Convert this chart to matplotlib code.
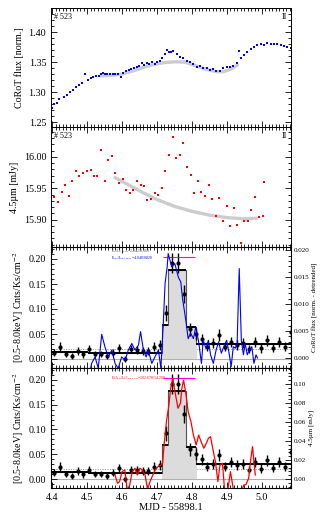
import numpy as np
import matplotlib
matplotlib.use('Agg')
import matplotlib.pyplot as plt
from matplotlib.ticker import MultipleLocator, FormatStrFormatter

plt.rcParams['font.family'] = ['Liberation Serif', 'DejaVu Serif']
plt.rcParams['mathtext.fontset'] = 'stix'

# CoRoT light curve (panel 1)
corot_t = [4.399, 4.406, 4.415, 4.421, 4.434, 4.442, 4.451, 4.459, 4.469, 4.478,
           4.486, 4.493, 4.504, 4.511, 4.518, 4.526, 4.533, 4.539, 4.545, 4.551,
           4.558, 4.566, 4.573, 4.581, 4.589, 4.596, 4.604, 4.611, 4.619, 4.627,
           4.634, 4.642, 4.649, 4.657, 4.663, 4.671, 4.678, 4.686, 4.693, 4.701,
           4.709, 4.714, 4.722, 4.728, 4.733, 4.741, 4.747, 4.756, 4.766, 4.775,
           4.785, 4.794, 4.804, 4.813, 4.823, 4.832, 4.842, 4.851, 4.861, 4.869,
           4.880, 4.889, 4.899, 4.909, 4.918, 4.928, 4.935, 4.939, 4.949, 4.958,
           4.968, 4.977, 4.987, 4.996, 5.006, 5.015, 5.025, 5.034, 5.044, 5.053,
           5.063, 5.072, 5.082]
corot_f = [1.2738, 1.2795, 1.2822, 1.2878, 1.2922, 1.2950, 1.3005, 1.3033, 1.3078, 1.3120,
           1.3158, 1.3305, 1.3194, 1.3239, 1.3256, 1.3272, 1.3261, 1.3294, 1.3322, 1.3306,
           1.3294, 1.3294, 1.3300, 1.3294, 1.3294, 1.3256, 1.3317, 1.3350, 1.3367, 1.3378,
           1.3394, 1.3417, 1.3439, 1.3483, 1.3450, 1.3489, 1.3461, 1.3494, 1.3472, 1.3506,
           1.3517, 1.3572, 1.3639, 1.3700, 1.3661, 1.3672, 1.3683, 1.3628, 1.3589, 1.3561,
           1.3517, 1.3494, 1.3460, 1.3417, 1.3439, 1.3406, 1.3394, 1.3367, 1.3383, 1.3350,
           1.3350, 1.3406, 1.3417, 1.3422, 1.3439, 1.3489, 1.3689, 1.3561, 1.3617, 1.3672,
           1.3717, 1.3756, 1.3783, 1.3794, 1.3783, 1.3811, 1.3794, 1.3800, 1.3794, 1.3783,
           1.3767, 1.3750, 1.3728]
corot_fit_t = [4.54, 4.57, 4.60, 4.63, 4.66, 4.69, 4.72, 4.75, 4.78, 4.81, 4.84, 4.87, 4.89, 4.91, 4.93]
corot_fit_f = [1.327, 1.328, 1.330, 1.335, 1.341, 1.346, 1.349, 1.3505, 1.350, 1.344, 1.338, 1.334, 1.334, 1.338, 1.345]

# Spitzer 4.5 micron (panel 2)
irac_t = [4.406, 4.418, 4.428, 4.437, 4.448, 4.457, 4.469, 4.478, 4.489, 4.499,
          4.510, 4.520, 4.529, 4.539, 4.550, 4.560, 4.571, 4.581, 4.591, 4.602,
          4.611, 4.623, 4.632, 4.642, 4.653, 4.663, 4.672, 4.684, 4.693, 4.703,
          4.714, 4.724, 4.734, 4.745, 4.755, 4.766, 4.775, 4.787, 4.796, 4.807,
          4.817, 4.827, 4.837, 4.848, 4.858, 4.868, 4.878, 4.889, 4.899, 4.909,
          4.919, 4.929, 4.939, 4.949, 4.960, 4.970, 4.981, 4.991, 5.002, 5.007]
irac_f = [15.936, 15.928, 15.944, 15.956, 15.937, 15.962, 15.978, 15.970, 15.974, 15.978,
          15.980, 15.969, 15.970, 16.011, 15.962, 15.995, 16.001, 15.975, 15.959, 15.965,
          15.947, 15.943, 15.947, 15.961, 15.956, 15.954, 15.931, 15.933, 15.943, 15.940,
          15.951, 15.977, 16.003, 16.032, 15.998, 16.003, 16.022, 15.984, 15.971, 15.942,
          15.961, 15.944, 15.938, 15.955, 15.933, 15.906, 15.934, 15.897, 15.921, 15.889,
          15.918, 15.892, 15.862, 15.897, 15.897, 15.915, 15.936, 15.904, 15.905, 15.960]
irac_fit_t = [4.58, 4.62, 4.66, 4.70, 4.75, 4.80, 4.85, 4.90, 4.95, 4.985]
irac_fit_f = [15.967, 15.955, 15.943, 15.932, 15.921, 15.913, 15.907, 15.903, 15.901, 15.902]

# Chandra X-ray rate (panels 3 and 4)
xray_t = [4.406, 4.423, 4.440, 4.456, 4.473, 4.489, 4.507, 4.524, 4.541, 4.557,
          4.574, 4.591, 4.608, 4.625, 4.642, 4.659, 4.675, 4.692, 4.709, 4.727,
          4.743, 4.760, 4.777, 4.793, 4.811, 4.828, 4.844, 4.861, 4.878, 4.895,
          4.912, 4.929, 4.946, 4.963, 4.980, 4.997, 5.013, 5.031, 5.048, 5.065, 5.082]
xray_r = [0.0127, 0.0247, 0.0093, 0.0060, 0.0167, 0.0100, 0.0193, 0.0093, 0.0093, 0.0060,
          0.0127, 0.0227, 0.0000, 0.0193, 0.0180, 0.0167, 0.0160, 0.0247, 0.0280, 0.0920,
          0.1913, 0.1913, 0.1310, 0.0600, 0.0500, 0.0400, 0.0247, 0.0313, 0.0480, 0.0247,
          0.0347, 0.0280, 0.0313, 0.0193, 0.0347, 0.0213, 0.0380, 0.0227, 0.0347, 0.0247, 0.0547]
xray_e = [0.007, 0.009, 0.006, 0.006, 0.008, 0.007, 0.008, 0.006, 0.006, 0.006,
          0.007, 0.008, 0.006, 0.008, 0.008, 0.008, 0.008, 0.009, 0.010, 0.016,
          0.020, 0.020, 0.018, 0.013, 0.012, 0.011, 0.009, 0.010, 0.012, 0.009,
          0.010, 0.010, 0.010, 0.008, 0.010, 0.009, 0.011, 0.009, 0.010, 0.009, 0.013]

# Bayesian blocks
block_edges = [4.397, 4.503, 4.715, 4.732, 4.783, 4.811, 5.083]
block_rate = [0.015, 0.013, 0.068, 0.178, 0.064, 0.031]
flare_start, flare_end = 4.715, 4.815
quiescent_level = 0.020
flare_marker = [4.716, 4.809, 0.204]

# detrended CoRoT (panel 3, right axis)
opt_t = [4.507, 4.513, 4.523, 4.532, 4.542, 4.551, 4.561, 4.571, 4.580, 4.589,
         4.599, 4.609, 4.618, 4.628, 4.637, 4.647, 4.653, 4.661, 4.669, 4.675,
         4.685, 4.694, 4.704, 4.711, 4.718, 4.723, 4.729, 4.732, 4.742, 4.751,
         4.761, 4.768, 4.773, 4.778, 4.783, 4.789, 4.796, 4.804, 4.811, 4.819,
         4.827, 4.832, 4.840, 4.847, 4.853, 4.861, 4.869, 4.876, 4.884, 4.891,
         4.899, 4.906, 4.912, 4.918, 4.924, 4.929, 4.935, 4.941, 4.947, 4.952,
         4.958, 4.964, 4.971, 4.977, 4.983, 4.987]
opt_f = [-0.0030, -0.0010, 0.0002, -0.0019, 0.0044, 0.0021, 0.0002, 0.0015, -0.0010, -0.0019,
         0.0002, -0.0004, 0.0015, 0.0027, 0.0015, 0.0024, 0.0049, 0.0015, 0.0002, 0.0015,
         -0.0010, 0.0002, 0.0015, -0.0019, 0.0064, 0.0138, 0.0169, 0.0194, 0.0169, 0.0175,
         0.0150, 0.0141, 0.0110, 0.0089, 0.0067, 0.0036, 0.0046, 0.0036, 0.0058, 0.0030,
         -0.0010, 0.0033, 0.0018, 0.0033, 0.0006, -0.0010, 0.0015, 0.0030, 0.0009, 0.0021,
         0.0033, 0.0009, -0.0016, 0.0021, 0.0018, 0.0027, 0.0166, 0.0033, 0.0006, 0.0027,
         0.0006, 0.0015, 0.0021, -0.0010, 0.0006, 0.0000]

# detrended 4.5 micron (panel 4, right axis)
ir_t = [4.580, 4.587, 4.593, 4.600, 4.608, 4.615, 4.622, 4.629, 4.637, 4.644,
        4.651, 4.658, 4.666, 4.673, 4.680, 4.688, 4.695, 4.703, 4.711, 4.716,
        4.721, 4.727, 4.734, 4.739, 4.745, 4.753, 4.760, 4.767, 4.771, 4.776,
        4.783, 4.789, 4.797, 4.804, 4.812, 4.819, 4.826, 4.834, 4.841, 4.847,
        4.853, 4.861, 4.867, 4.874, 4.880, 4.887, 4.894, 4.901, 4.910, 4.920,
        4.930, 4.940, 4.948, 4.954, 4.962, 4.967, 4.973, 4.977, 4.981]
ir_f = [0.0042, -0.0045, -0.0028, 0.0077, 0.0095, -0.0120, -0.0063, 0.0077, 0.0113, 0.0042,
        0.0113, 0.0095, 0.0042, -0.0110, -0.0028, 0.0042, 0.0095, 0.0130, 0.0147, 0.0165,
        0.0393, 0.0604, 0.0780, 0.0955, 0.1060, 0.0885, 0.0745, 0.0797, 0.0955, 0.1040,
        0.0885, 0.0709, 0.0604, 0.0463, 0.0358, 0.0463, 0.0393, 0.0323, 0.0376, 0.0429,
        0.0445, 0.0288, 0.0182, -0.0028, 0.0147, 0.0165, -0.0150, -0.0150, 0.0077, -0.0150,
        -0.0150, -0.0150, -0.0063, -0.0060, 0.0007, 0.0182, 0.0340, 0.0182, 0.0042]

xlim = (4.397, 5.083)
fs = 7.2
small = 5.0


def panel_axes(top_px, bot_px):
    H = 523.0
    return fig.add_axes([51 / 327, 1 - bot_px / H, 240 / 327, (bot_px - top_px) / H])


def style(ax, xlab=False):
    ax.set_xlim(*xlim)
    ax.xaxis.set_major_locator(MultipleLocator(0.1))
    ax.xaxis.set_minor_locator(MultipleLocator(0.01))
    ax.tick_params(which='both', direction='in', top=True, right=True, labelsize=fs, width=0.6)
    ax.tick_params(which='major', length=4.5)
    ax.tick_params(which='minor', length=2.2)
    if not xlab:
        ax.tick_params(labelbottom=False)
    for s in ax.spines.values():
        s.set_linewidth(0.7)


def right_style(ax):
    ax.tick_params(which='both', direction='in', labelsize=small, width=0.6, pad=2)
    ax.tick_params(which='major', length=4.5)
    ax.tick_params(which='minor', length=2.2)


fig = plt.figure(figsize=(3.27, 5.23), dpi=100)

# panel 1
ax1 = panel_axes(8, 127)
ax1.plot(corot_fit_t, corot_fit_f, color='#cccccc', lw=2.4, solid_capstyle='round', zorder=1)
ax1.plot(corot_t, corot_f, 's', color='blue', ms=2.1, mew=0, zorder=2)
ax1.set_ylim(1.242, 1.44)
ax1.yaxis.set_major_locator(MultipleLocator(0.05))
ax1.yaxis.set_minor_locator(MultipleLocator(0.01))
ax1.yaxis.set_major_formatter(FormatStrFormatter('%.2f'))
ax1.set_ylabel('CoRoT flux [norm.]', fontsize=fs, labelpad=3)
style(ax1)
ax1.text(0.012, 0.955, '# 523', transform=ax1.transAxes, fontsize=5.8, va='top', ha='left')
ax1.text(0.985, 0.955, 'II', transform=ax1.transAxes, fontsize=5.8, va='top', ha='right')

# panel 2
ax2 = panel_axes(127, 247)
ax2.plot(irac_fit_t, irac_fit_f, color='#cccccc', lw=2.4, solid_capstyle='round', zorder=1)
ax2.plot(irac_t, irac_f, 's', color='red', ms=2.1, mew=0, zorder=2)
ax2.set_ylim(15.856, 16.048)
ax2.yaxis.set_major_locator(MultipleLocator(0.05))
ax2.yaxis.set_minor_locator(MultipleLocator(0.01))
ax2.yaxis.set_major_formatter(FormatStrFormatter('%.2f'))
ax2.set_ylabel('4.5µm [mJy]', fontsize=fs, labelpad=3)
style(ax2)
ax2.text(0.012, 0.955, '# 523', transform=ax2.transAxes, fontsize=5.8, va='top', ha='left')
ax2.text(0.985, 0.955, 'II', transform=ax2.transAxes, fontsize=5.8, va='top', ha='right')


def xray_panel(ax):
    edges = np.array(block_edges)
    rates = np.array(block_rate)
    ax.axhline(0.0, color='#b0b0b0', lw=0.8, zorder=1)
    ax.axhline(quiescent_level, color='#909090', lw=0.7, ls=(0, (1, 1.5)), zorder=1)
    inner = [t for t in edges if flare_start < t < flare_end]
    fill_x = [flare_start] + inner + [flare_end]
    fill_y = []
    for x in fill_x:
        i = min(np.searchsorted(edges, x, side='right') - 1, len(rates) - 1)
        fill_y.append(rates[i])
    ax.fill_between(fill_x, 0, fill_y, step='post', color='#dcdcdc', lw=0, zorder=1)
    ax.stairs(rates, edges, color='#555555', lw=0.8, zorder=2)
    ax.hlines(rates, edges[:-1], edges[1:], color='black', lw=1.4, zorder=3)
    ax.hlines(flare_marker[2], flare_marker[0], flare_marker[1], color='magenta', lw=0.8, zorder=3)
    ax.errorbar(xray_t, xray_r, yerr=xray_e, fmt='o', color='black', ms=3.0, mew=0,
                elinewidth=1.0, capsize=0, zorder=4)
    ax.set_ylim(-0.018, 0.224)
    ax.yaxis.set_major_locator(MultipleLocator(0.05))
    ax.yaxis.set_minor_locator(MultipleLocator(0.01))
    ax.yaxis.set_major_formatter(FormatStrFormatter('%.2f'))
    ax.set_ylabel('[0.5-8.0keV] Cnts/Ks/cm$^{-2}$', fontsize=fs, labelpad=2)


# panel 3
ax3 = panel_axes(247, 368)
xray_panel(ax3)
style(ax3)
ax3.tick_params(right=False)
ax3.text(4.569, 0.2135, r'E$_{X}$/L$_{X,quies}$=2.042/0.363', fontsize=2.8, color='#555555', va='center')
ax3.text(4.569, 0.1995, r'E$_{opt}$/L$_{opt,quies}$=4.048/0.020', fontsize=2.8, color='blue', va='center')
ax3r = ax3.twinx()
ax3r.plot(opt_t, opt_f, color='blue', lw=0.8)
ax3r.set_ylim(-0.00185, 0.0206)
ax3r.yaxis.set_major_locator(MultipleLocator(0.005))
ax3r.yaxis.set_minor_locator(MultipleLocator(0.001))
ax3r.yaxis.set_major_formatter(FormatStrFormatter('%.3f'))
right_style(ax3r)
ax3r.set_ylabel('CoRoT flux [norm. - detrended]', fontsize=small, labelpad=2)

# panel 4
ax4 = panel_axes(368, 488)
xray_panel(ax4)
style(ax4, xlab=True)
ax4.tick_params(right=False)
ax4.set_xlabel('MJD - 55898.1', fontsize=7.6, labelpad=1)
ax4.text(4.569, 0.2170, r'E$_{X}$/L$_{X,quies}$=2.042/0.363', fontsize=2.8, color='#555555', va='center')
ax4.text(4.569, 0.2020, r'E$_{4.5\mu m}$/L$_{4.5\mu m,quies}$=102.670/14.200', fontsize=2.8, color='red', va='center')
ax4r = ax4.twinx()
ax4r.plot(ir_t, ir_f, color='red', lw=0.9)
ax4r.set_ylim(-0.0095, 0.1168)
ax4r.yaxis.set_major_locator(MultipleLocator(0.02))
ax4r.yaxis.set_minor_locator(MultipleLocator(0.004))
ax4r.yaxis.set_major_formatter(FormatStrFormatter('%.2f'))
right_style(ax4r)
ax4r.set_ylabel('4.5µm [mJy]', fontsize=small, labelpad=2)

fig.savefig('out.png', dpi=100)
